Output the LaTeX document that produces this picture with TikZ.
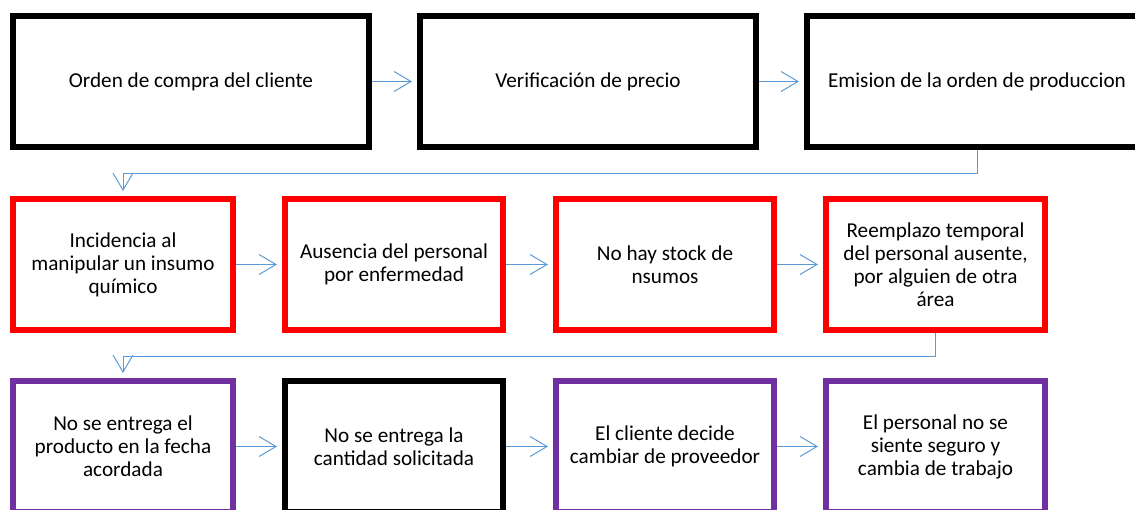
\documentclass[tikz,border=0pt]{standalone}
\usepackage{fontspec}
\setmainfont{Carlito}
\usepackage{tikz}
\usetikzlibrary{arrows.meta}
\definecolor{flujo}{RGB}{91,155,213}
\definecolor{morado}{RGB}{112,48,160}

\begin{document}
\begin{tikzpicture}[x=1pt,y=-1pt,
  caja/.style={draw, line width=6pt, align=center, inner sep=0pt,
    minimum height=131pt, font=\fontsize{21.2}{23}\selectfont},
  flecha/.style={flujo, line width=1pt, shorten >=5pt,
    -{Straight Barb[length=17pt,width=20pt]}}]
\clip (0,0) rectangle (1135,509);

\node[caja, minimum width=356pt] (orden) at (191,81.5) {Orden de compra del cliente};
\node[caja, minimum width=336pt] (precio) at (588,81.5) {Verificación de precio};
\node[caja, minimum width=340pt] (emision) at (977,81.5) {Emision de la orden de produccion};

\node[caja, draw=red, minimum width=220pt] (incidencia) at (123,264.5) {Incidencia al\\manipular un insumo\\químico};
\node[caja, draw=red, minimum width=218pt] (ausencia) at (394,264.5) {Ausencia del personal\\por enfermedad};
\node[caja, draw=red, minimum width=218pt] (stock) at (665,264.5) {No hay stock de\\nsumos};
\node[caja, draw=red, minimum width=219pt] (reemplazo) at (935.5,264.5) {Reemplazo temporal\\del personal ausente,\\por alguien de otra\\área};

\node[caja, draw=morado, minimum width=220pt] (fecha) at (123,446.5) {No se entrega el\\producto en la fecha\\acordada};
\node[caja, minimum width=218pt] (cantidad) at (394,446.5) {No se entrega la\\cantidad solicitada};
\node[caja, draw=morado, minimum width=218pt] (proveedor) at (665,446.5) {El cliente decide\\cambiar de proveedor};
\node[caja, draw=morado, minimum width=219pt] (trabajo) at (935.5,446.5) {El personal no se\\siente seguro y\\cambia de trabajo};

\draw[flecha] (orden) -- (precio);
\draw[flecha] (precio) -- (emision);
\draw[flecha] (emision.south) -- ++(0,23) -| (incidencia.north);

\draw[flecha] (incidencia) -- (ausencia);
\draw[flecha] (ausencia) -- (stock);
\draw[flecha] (stock) -- (reemplazo);
\draw[flecha] (reemplazo.south) -- ++(0,23) -| (fecha.north);

\draw[flecha] (fecha) -- (cantidad);
\draw[flecha] (cantidad) -- (proveedor);
\draw[flecha] (proveedor) -- (trabajo);
\end{tikzpicture}
\end{document}
